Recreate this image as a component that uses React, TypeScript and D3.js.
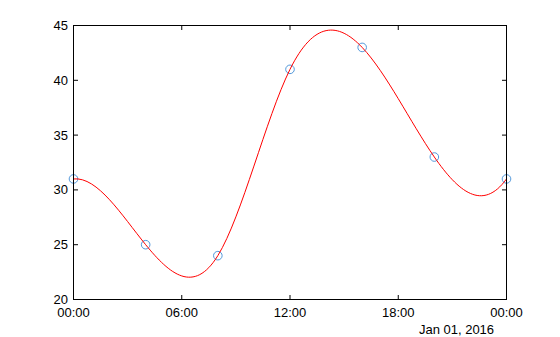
import React from "react";
import * as d3 from "d3";

const hours = [0, 4, 8, 12, 16, 20, 24];
const values = [31, 25, 24, 41, 43, 33, 31];
const xTicks = [0, 6, 12, 18, 24];
const xTickLabels = ["00:00", "06:00", "12:00", "18:00", "00:00"];
const yTicks = [20, 25, 30, 35, 40, 45];
const dateLabel = "Jan 01, 2016";

// Not-a-knot cubic spline (MATLAB "spline") as a d3 curve factory
function solve(A: number[][], b: number[]): number[] {
  const n = b.length;
  const M = A.map((r, i) => [...r, b[i]]);
  for (let c = 0; c < n; c++) {
    let p = c;
    for (let r = c + 1; r < n; r++) if (Math.abs(M[r][c]) > Math.abs(M[p][c])) p = r;
    [M[c], M[p]] = [M[p], M[c]];
    for (let r = c + 1; r < n; r++) {
      const f = M[r][c] / M[c][c];
      for (let k = c; k <= n; k++) M[r][k] -= f * M[c][k];
    }
  }
  const x = new Array(n).fill(0);
  for (let r = n - 1; r >= 0; r--) {
    let s = M[r][n];
    for (let k = r + 1; k < n; k++) s -= M[r][k] * x[k];
    x[r] = s / M[r][r];
  }
  return x;
}

function curveNotAKnot(context: any) {
  let xs: number[] = [];
  let ys: number[] = [];
  return {
    areaStart() {},
    areaEnd() {},
    lineStart() {
      xs = [];
      ys = [];
    },
    point(x: number, y: number) {
      xs.push(+x);
      ys.push(+y);
    },
    lineEnd() {
      const n = xs.length - 1;
      if (n < 0) return;
      context.moveTo(xs[0], ys[0]);
      if (n < 3) {
        for (let i = 1; i <= n; i++) context.lineTo(xs[i], ys[i]);
        return;
      }
      const h = d3.range(n).map((i) => xs[i + 1] - xs[i]);
      const A: number[][] = d3.range(n + 1).map(() => new Array(n + 1).fill(0));
      const b: number[] = new Array(n + 1).fill(0);
      A[0][0] = -h[1];
      A[0][1] = h[0] + h[1];
      A[0][2] = -h[0];
      for (let i = 1; i < n; i++) {
        A[i][i - 1] = h[i - 1];
        A[i][i] = 2 * (h[i - 1] + h[i]);
        A[i][i + 1] = h[i];
        b[i] = 6 * ((ys[i + 1] - ys[i]) / h[i] - (ys[i] - ys[i - 1]) / h[i - 1]);
      }
      A[n][n - 2] = -h[n - 1];
      A[n][n - 1] = h[n - 2] + h[n - 1];
      A[n][n] = -h[n - 2];
      const M = solve(A, b);
      for (let i = 0; i < n; i++) {
        const hi = h[i];
        const sl = (ys[i + 1] - ys[i]) / hi;
        const d0 = sl - (hi * (2 * M[i] + M[i + 1])) / 6;
        const d1 = sl + (hi * (M[i] + 2 * M[i + 1])) / 6;
        context.bezierCurveTo(
          xs[i] + hi / 3,
          ys[i] + (d0 * hi) / 3,
          xs[i + 1] - hi / 3,
          ys[i + 1] - (d1 * hi) / 3,
          xs[i + 1],
          ys[i + 1]
        );
      }
    },
  };
}

export default function App() {
  const W = 560;
  const H = 337;
  const left = 73.5;
  const right = 506.5;
  const top = 25.5;
  const bottom = 299.5;
  const x = d3.scaleLinear().domain([0, 24]).range([left, right]);
  const y = d3.scaleLinear().domain([20, 45]).range([bottom, top]);
  const line = d3
    .line<number>()
    .x((_, i) => x(hours[i]))
    .y((d) => y(d))
    .curve(curveNotAKnot as any);
  const font = "'Liberation Sans', Arial, Helvetica, sans-serif";
  const tl = 4.5;
  return (
    <svg
      width={W}
      height={H}
      style={{ position: "absolute", left: 0, top: 0, background: "#fff" }}
      fontFamily={font}
    >
      <rect x={0} y={0} width={W} height={H} fill="#fff" />
      {values.map((v, i) => (
        <circle
          key={i}
          cx={x(hours[i])}
          cy={y(v)}
          r={4.3}
          fill="none"
          stroke="#3f8cd6"
          strokeWidth={0.9}
        />
      ))}
      <path d={line(values) || ""} fill="none" stroke="#ff0000" strokeWidth={1} />
      <rect
        x={left}
        y={top}
        width={right - left}
        height={bottom - top}
        fill="none"
        stroke="#000"
        strokeWidth={1}
      />
      {xTicks.map((t, i) => (
        <g key={"x" + i}>
          <line x1={x(t)} x2={x(t)} y1={bottom} y2={bottom - tl} stroke="#000" />
          <line x1={x(t)} x2={x(t)} y1={top} y2={top + tl} stroke="#000" />
          <text x={x(t)} y={317} textAnchor="middle" fontSize={13} fill="#000">
            {xTickLabels[i]}
          </text>
        </g>
      ))}
      {yTicks.map((t, i) => (
        <g key={"y" + i}>
          <line x1={left} x2={left + tl} y1={y(t)} y2={y(t)} stroke="#000" />
          <line x1={right} x2={right - tl} y1={y(t)} y2={y(t)} stroke="#000" />
          <text
            x={68}
            y={y(t)}
            dy="0.35em"
            textAnchor="end"
            fontSize={13}
            fill="#000"
          >
            {t}
          </text>
        </g>
      ))}
      <text x={456.5} y={334} textAnchor="middle" fontSize={13} fill="#000">
        {dateLabel}
      </text>
    </svg>
  );
}
